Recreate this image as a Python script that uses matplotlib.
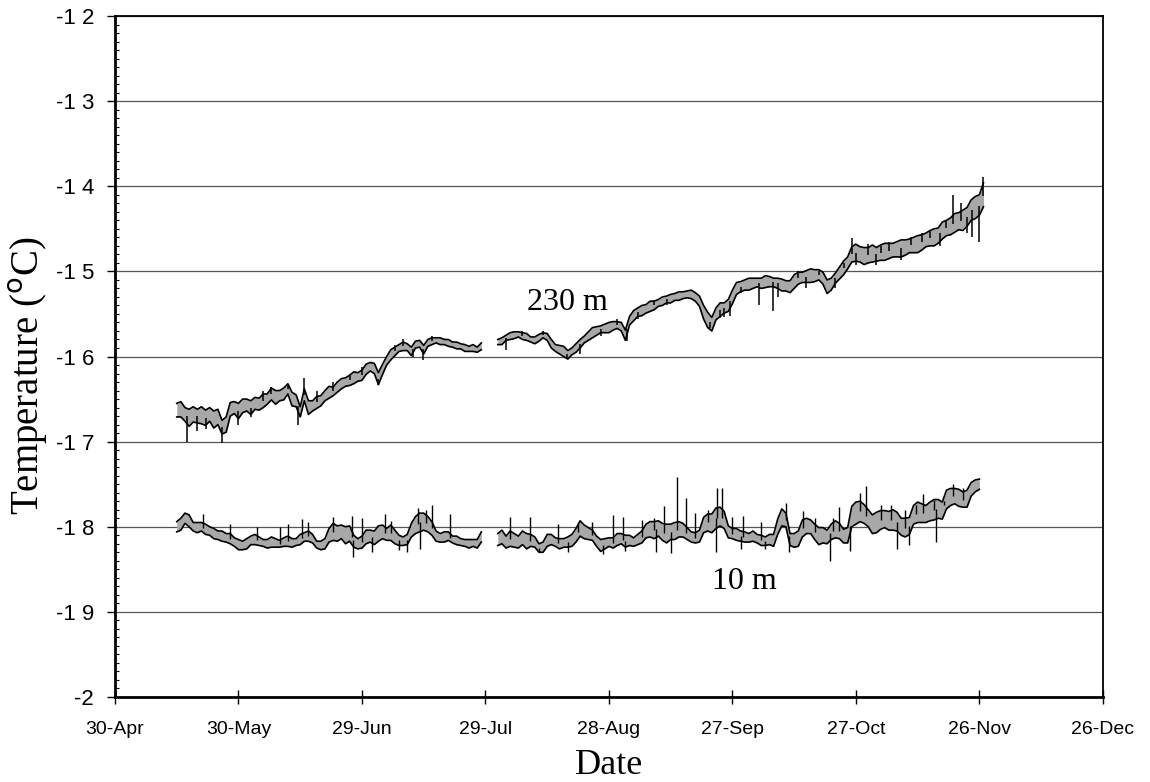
import numpy as np
import matplotlib
matplotlib.use("Agg")
import matplotlib.pyplot as plt
from matplotlib.ticker import MultipleLocator, FixedLocator, FuncFormatter
from datetime import date, timedelta

# axis set-up (days counted from 30-Apr)
start = date(2001, 4, 30)
tick_days = [0, 30, 60, 90, 120, 150, 180, 210, 240]
y_ticks = [-2.0, -1.9, -1.8, -1.7, -1.6, -1.5, -1.4, -1.3, -1.2]
y_tick_labels = ["-2", "-1 9", "-1 8", "-1 7", "-1 6", "-1 5", "-1 4", "-1 3", "-1 2"]

# ---- 230 m ----
d230_a = np.arange(15, 90)
t230_a = [-1.663, -1.662, -1.668, -1.672, -1.668, -1.670, -1.669, -1.672, -1.668, -1.674,
          -1.671, -1.683, -1.680, -1.662, -1.660, -1.664, -1.658, -1.657, -1.660, -1.655,
          -1.656, -1.652, -1.650, -1.644, -1.648, -1.646, -1.644, -1.638, -1.650, -1.652,
          -1.665, -1.645, -1.660, -1.658, -1.654, -1.652, -1.646, -1.642, -1.641, -1.636,
          -1.632, -1.630, -1.628, -1.625, -1.624, -1.622, -1.615, -1.612, -1.614, -1.626,
          -1.615, -1.605, -1.598, -1.594, -1.590, -1.588, -1.589, -1.594, -1.586, -1.585,
          -1.592, -1.584, -1.582, -1.581, -1.582, -1.583, -1.584, -1.586, -1.587, -1.588,
          -1.590, -1.591, -1.590, -1.592, -1.588]
w230_a = [.008, .009, .008, .010, .009, .008, .010, .009, .008, .010,
          .009, .008, .009, .008, .007, .009, .008, .007, .008, .007,
          .007, .008, .006, .007, .008, .006, .007, .006, .008, .007,
          .006, .007, .008, .006, .007, .006, .006, .007, .005, .006,
          .006, .005, .006, .007, .005, .006, .006, .005, .006, .007,
          .006, .005, .006, .005, .004, .005, .004, .005, .004, .004,
          .005, .004, .004, .003, .004, .003, .004, .003, .004, .003,
          .004, .003, .004, .003, .004]

d230_b = np.arange(93, 212)
t230_b = [-1.583, -1.582, -1.578, -1.576, -1.575, -1.574, -1.576, -1.577, -1.580, -1.581,
          -1.578, -1.575, -1.577, -1.585, -1.590, -1.592, -1.594, -1.598, -1.594, -1.590,
          -1.585, -1.580, -1.576, -1.572, -1.570, -1.568, -1.567, -1.566, -1.564, -1.563,
          -1.565, -1.575, -1.558, -1.552, -1.548, -1.546, -1.544, -1.541, -1.540, -1.537,
          -1.535, -1.533, -1.532, -1.530, -1.529, -1.528, -1.527, -1.527, -1.530, -1.535,
          -1.548, -1.557, -1.562, -1.550, -1.545, -1.543, -1.540, -1.530, -1.520, -1.518,
          -1.516, -1.515, -1.514, -1.513, -1.514, -1.512, -1.512, -1.513, -1.514, -1.516,
          -1.517, -1.518, -1.512, -1.508, -1.507, -1.506, -1.505, -1.505, -1.504, -1.508,
          -1.518, -1.515, -1.508, -1.502, -1.496, -1.490, -1.480, -1.478, -1.480, -1.482,
          -1.481, -1.479, -1.480, -1.478, -1.477, -1.476, -1.475, -1.474, -1.473, -1.472,
          -1.470, -1.469, -1.468, -1.466, -1.463, -1.461, -1.460, -1.458, -1.452, -1.449,
          -1.447, -1.443, -1.441, -1.440, -1.436, -1.428, -1.425, -1.422, -1.410]
w230_b = [.003, .004, .003, .004, .004, .003, .004, .004, .003, .004,
          .004, .003, .004, .005, .004, .005, .006, .005, .004, .005,
          .005, .004, .005, .006, .005, .004, .005, .006, .005, .004,
          .005, .006, .005, .006, .005, .006, .005, .006, .005, .004,
          .005, .004, .005, .004, .005, .004, .004, .005, .005, .006,
          .008, .009, .008, .007, .008, .006, .007, .008, .007, .006,
          .006, .007, .006, .005, .006, .007, .006, .005, .006, .007,
          .006, .007, .008, .007, .006, .007, .008, .007, .006, .007,
          .008, .007, .006, .007, .008, .007, .009, .010, .009, .010,
          .009, .010, .008, .009, .010, .009, .008, .009, .010, .009,
          .008, .009, .010, .009, .008, .009, .010, .009, .010, .009,
          .010, .011, .010, .012, .011, .012, .013, .012, .014]

spike230_day = [17.5, 20, 22, 26, 30, 33, 36, 38, 42, 44.5, 46, 49, 53, 57, 60, 64, 68, 70,
                72.4, 74.8, 77, 95, 99, 104, 109.8, 113, 118, 122, 124.4, 127, 131, 134,
                144.5, 147, 148, 149.5, 152, 156.5, 159.8, 161, 166, 168, 171, 175, 177,
                179, 180, 183, 185, 186, 188, 191, 193.5, 196, 198, 200.5, 202, 203.6,
                205.5, 207, 208.2, 209.8, 210.9]
spike230_val = [-1.700, -1.688, -1.685, -1.702, -1.681, -1.671, -1.640, -1.636, -1.632,
                -1.680, -1.625, -1.640, -1.630, -1.620, -1.612, -1.634, -1.586, -1.580,
                -1.600, -1.604, -1.576, -1.592, -1.570, -1.570, -1.602, -1.597, -1.576,
                -1.556, -1.582, -1.556, -1.534, -1.540, -1.566, -1.555, -1.553, -1.552,
                -1.525, -1.540, -1.547, -1.530, -1.500, -1.520, -1.500, -1.520, -1.490,
                -1.461, -1.492, -1.468, -1.492, -1.470, -1.466, -1.487, -1.460, -1.455,
                -1.452, -1.470, -1.440, -1.410, -1.420, -1.455, -1.460, -1.466, -1.389]

# ---- 10 m ----
d10_a = np.arange(15, 90)
t10_a = [-1.800, -1.797, -1.790, -1.793, -1.800, -1.801, -1.800, -1.803, -1.805, -1.808,
         -1.810, -1.811, -1.813, -1.814, -1.818, -1.821, -1.822, -1.820, -1.816, -1.815,
         -1.817, -1.819, -1.820, -1.818, -1.819, -1.820, -1.818, -1.817, -1.819, -1.818,
         -1.815, -1.812, -1.811, -1.814, -1.821, -1.822, -1.820, -1.810, -1.806, -1.808,
         -1.806, -1.810, -1.808, -1.817, -1.820, -1.818, -1.812, -1.811, -1.813, -1.808,
         -1.806, -1.809, -1.807, -1.812, -1.816, -1.817, -1.815, -1.804, -1.798, -1.795,
         -1.794, -1.797, -1.802, -1.811, -1.813, -1.812, -1.811, -1.815, -1.816, -1.818,
         -1.819, -1.820, -1.819, -1.820, -1.812]
w10_a = [.006, .007, .006, .007, .005, .006, .005, .006, .005, .006,
         .005, .006, .005, .006, .005, .006, .005, .006, .005, .006,
         .005, .004, .005, .006, .005, .004, .005, .006, .005, .004,
         .006, .005, .006, .005, .004, .005, .006, .008, .010, .009,
         .008, .010, .009, .007, .006, .007, .008, .007, .008, .009,
         .008, .007, .009, .008, .006, .005, .006, .008, .010, .011,
         .010, .009, .008, .006, .005, .006, .005, .004, .005, .004,
         .004, .005, .004, .005, .006]

d10_b = np.arange(93, 211)
t10_b = [-1.815, -1.812, -1.818, -1.814, -1.816, -1.818, -1.813, -1.817, -1.816, -1.818,
         -1.825, -1.824, -1.816, -1.815, -1.818, -1.820, -1.819, -1.818, -1.816, -1.810,
         -1.802, -1.806, -1.808, -1.810, -1.817, -1.822, -1.820, -1.818, -1.819, -1.815,
         -1.814, -1.817, -1.816, -1.818, -1.815, -1.812, -1.805, -1.803, -1.804, -1.802,
         -1.806, -1.808, -1.806, -1.805, -1.803, -1.804, -1.808, -1.812, -1.813, -1.811,
         -1.798, -1.795, -1.796, -1.790, -1.788, -1.792, -1.806, -1.808, -1.809, -1.811,
         -1.812, -1.813, -1.811, -1.814, -1.816, -1.817, -1.815, -1.816, -1.800, -1.789,
         -1.792, -1.815, -1.816, -1.814, -1.802, -1.799, -1.800, -1.806, -1.811, -1.810,
         -1.812, -1.806, -1.803, -1.805, -1.811, -1.810, -1.788, -1.784, -1.782, -1.785,
         -1.790, -1.797, -1.795, -1.792, -1.791, -1.793, -1.792, -1.794, -1.800, -1.801,
         -1.799, -1.786, -1.783, -1.784, -1.785, -1.782, -1.780, -1.779, -1.781, -1.768,
         -1.765, -1.764, -1.766, -1.768, -1.767, -1.756, -1.752, -1.750]
w10_b = [.007, .008, .007, .009, .008, .007, .008, .009, .007, .006,
         .005, .006, .007, .006, .005, .006, .005, .006, .007, .008,
         .009, .008, .007, .006, .006, .007, .006, .005, .006, .007,
         .006, .007, .006, .005, .006, .007, .008, .009, .010, .009,
         .010, .011, .009, .010, .009, .008, .007, .006, .006, .007,
         .009, .010, .011, .012, .011, .010, .007, .006, .007, .006,
         .006, .005, .006, .005, .006, .005, .006, .007, .009, .010,
         .008, .007, .008, .009, .010, .009, .008, .009, .010, .009,
         .008, .009, .010, .009, .008, .009, .012, .013, .012, .011,
         .010, .011, .012, .011, .010, .011, .012, .011, .010, .011,
         .010, .011, .012, .011, .010, .011, .012, .011, .010, .011,
         .010, .009, .010, .009, .010, .008, .007, .006]

spike10_day = [21.5, 28, 34.5, 40, 42, 45.5, 47, 53, 57.5, 60, 65.5, 67, 73.5, 75.5, 77, 81.5,
               57.8, 62.5, 69, 71, 74,
               96, 100.8, 107.7, 112.5, 116, 121, 123.5, 128, 131, 133.4, 136.5, 138.8, 141,
               144, 146.2, 147.4, 150, 152.5, 157, 163, 167.2, 170, 174.5, 176, 181, 182.5,
               186, 188.5, 192, 194.5, 196.3, 199, 201.5, 203.6, 206,
               103, 110, 118.5, 124, 131.5, 135, 146, 152, 158, 163.8, 173.8, 178.5, 190,
               193, 199.5]
spike10_val = [-1.785, -1.797, -1.800, -1.800, -1.797, -1.791, -1.794, -1.789, -1.787, -1.790,
               -1.785, -1.793, -1.778, -1.780, -1.775, -1.785,
               -1.835, -1.830, -1.827, -1.830, -1.826,
               -1.789, -1.789, -1.797, -1.795, -1.795, -1.786, -1.788, -1.792, -1.790, -1.776,
               -1.742, -1.766, -1.784, -1.780, -1.755, -1.755, -1.788, -1.787, -1.795, -1.772,
               -1.781, -1.790, -1.790, -1.777, -1.760, -1.752, -1.774, -1.775, -1.780, -1.774,
               -1.762, -1.768, -1.770, -1.750, -1.755,
               -1.830, -1.830, -1.832, -1.828, -1.830, -1.831, -1.830, -1.826, -1.826, -1.830,
               -1.840, -1.828, -1.826, -1.822, -1.818]

fig = plt.figure(figsize=(11.5, 7.82), dpi=100)
ax = fig.add_axes([0.100, 0.1087, 0.859, 0.8708])


def draw_band(days, temp, half):
    temp = np.array(temp)
    half = np.array(half)
    lo = temp - half
    hi = temp + half
    ax.fill_between(days, lo, hi, color="#a8a8a8", lw=0, zorder=3)
    ax.plot(days, lo, color="black", lw=1.2, zorder=4)
    ax.plot(days, hi, color="black", lw=1.2, zorder=4)


draw_band(d230_a, t230_a, w230_a)
draw_band(d230_b, t230_b, w230_b)
draw_band(d10_a, t10_a, w10_a)
draw_band(d10_b, t10_b, w10_b)

# short spikes off the band
all230_d = np.concatenate([d230_a, d230_b])
all230_t = np.concatenate([t230_a, t230_b])
ax.vlines(spike230_day, np.interp(spike230_day, all230_d, all230_t), spike230_val,
          color="black", lw=1.1, zorder=4)
all10_d = np.concatenate([d10_a, d10_b])
all10_t = np.concatenate([t10_a, t10_b])
ax.vlines(spike10_day, np.interp(spike10_day, all10_d, all10_t), spike10_val,
          color="black", lw=1.0, zorder=4)

ax.text(109.8, -1.537, "230 m", ha="center", va="center", fontsize=23,
        family="Liberation Serif")
ax.text(152.8, -1.864, "10 m", ha="center", va="center", fontsize=23,
        family="Liberation Serif")

ax.set_xlim(0, 240)
ax.set_ylim(-2.0, -1.2)
ax.xaxis.set_major_locator(FixedLocator(tick_days))
ax.xaxis.set_major_formatter(FuncFormatter(
    lambda v, p: (start + timedelta(days=int(round(v)))).strftime("%d-%b")))
ax.yaxis.set_major_locator(FixedLocator(y_ticks))
ax.set_yticklabels(y_tick_labels)
ax.yaxis.set_minor_locator(MultipleLocator(0.01))

ax.yaxis.grid(True, which="major", color="#555555", lw=0.9)
ax.set_axisbelow(True)

ax.tick_params(axis="y", which="major", direction="out", length=6, width=1, pad=9,
               labelsize=16)
ax.tick_params(axis="y", which="minor", direction="in", length=3, width=0.8)
ax.tick_params(axis="x", which="major", direction="inout", length=10, width=1, pad=12,
               labelsize=14)
for lab in ax.get_xticklabels() + ax.get_yticklabels():
    lab.set_family("Liberation Sans")

for side in ["left", "bottom"]:
    ax.spines[side].set_linewidth(2)
for side in ["right", "top"]:
    ax.spines[side].set_linewidth(1.3)

ax.set_ylabel("Temperature ($^{\\mathrm{o}}$C)", fontsize=28, family="Liberation Serif")
ax.yaxis.set_label_coords(-0.066, 0.472)
ax.set_xlabel("Date", fontsize=26, family="Liberation Serif", labelpad=8)

fig.savefig("out.png", dpi=100)
